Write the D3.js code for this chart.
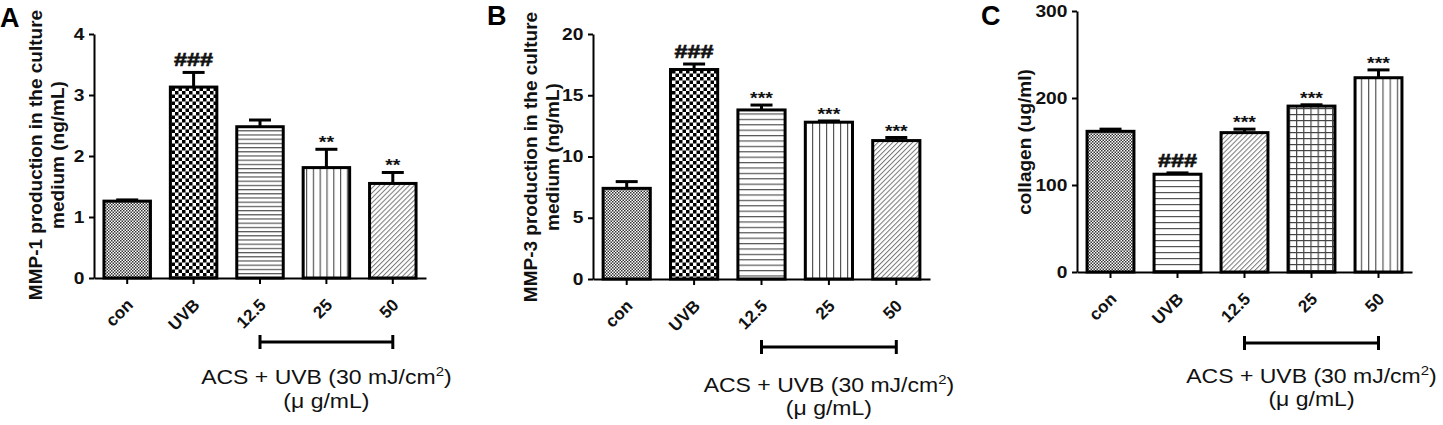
<!DOCTYPE html>
<html>
<head>
<meta charset="utf-8">
<script src="https://cdn.jsdelivr.net/npm/d3@7"></script>
<style>
  body { margin: 0; background: #fff; }
  svg { display: block; font-family: "Liberation Sans", Arial, sans-serif; }
</style>
</head>
<body>
<div id="chart-area"></div>
<script>
// Data
var groups = ["con", "UVB", "12.5", "25", "50"];

var mmp1Mean = [1.26, 3.13, 2.48, 1.81, 1.55];
var mmp1Err  = [0.02, 0.24, 0.11, 0.30, 0.18];
var mmp1Sig  = ["", "###", "", "**", "**"];
var mmp1Ticks = [0, 1, 2, 3, 4];

var mmp3Mean = [7.4, 17.1, 13.8, 12.8, 11.3];
var mmp3Err  = [0.55, 0.45, 0.40, 0.10, 0.25];
var mmp3Sig  = ["", "###", "***", "***", "***"];
var mmp3Ticks = [0, 5, 10, 15, 20];

var colMean = [161.7, 112.4, 160.2, 190.7, 223.3];
var colErr  = [2.5, 1.5, 4.0, 1.5, 9.0];
var colSig  = ["", "###", "***", "***", "***"];
var colTicks = [0, 100, 200, 300];

var W = 1443, H = 425;

var svg = d3.select("#chart-area")
    .append("svg")
        .attr("width", W)
        .attr("height", H);

var defs = svg.append("defs");

// Fill patterns
function makePatterns(prefix, hStep, vStep) {
    var p;
    // fine dots (con)
    p = defs.append("pattern").attr("id", prefix + "dots")
        .attr("patternUnits", "userSpaceOnUse").attr("width", 3).attr("height", 3);
    p.append("rect").attr("width", 3).attr("height", 3).attr("fill", "#fff");
    p.append("rect").attr("width", 1.5).attr("height", 1.5).attr("fill", "#333");
    p.append("rect").attr("x", 1.5).attr("y", 1.5).attr("width", 1.5).attr("height", 1.5).attr("fill", "#333");

    // big checker
    p = defs.append("pattern").attr("id", prefix + "checker")
        .attr("patternUnits", "userSpaceOnUse").attr("width", 7).attr("height", 7);
    p.append("rect").attr("width", 7).attr("height", 7).attr("fill", "#fff");
    p.append("rect").attr("width", 3.5).attr("height", 3.5).attr("fill", "#000");
    p.append("rect").attr("x", 3.5).attr("y", 3.5).attr("width", 3.5).attr("height", 3.5).attr("fill", "#000");

    // horizontal lines
    p = defs.append("pattern").attr("id", prefix + "hlines")
        .attr("patternUnits", "userSpaceOnUse").attr("width", 10).attr("height", hStep);
    p.append("rect").attr("width", 10).attr("height", hStep).attr("fill", "#fff");
    p.append("rect").attr("y", 0).attr("width", 10).attr("height", 1.2).attr("fill", "#555");

    // vertical lines
    p = defs.append("pattern").attr("id", prefix + "vlines")
        .attr("patternUnits", "userSpaceOnUse").attr("width", vStep).attr("height", 10);
    p.append("rect").attr("width", vStep).attr("height", 10).attr("fill", "#fff");
    p.append("rect").attr("x", 0).attr("width", 1.2).attr("height", 10).attr("fill", "#555");

    // diagonal hatch
    p = defs.append("pattern").attr("id", prefix + "diag")
        .attr("patternUnits", "userSpaceOnUse").attr("width", 3.5).attr("height", 10)
        .attr("patternTransform", "rotate(45)");
    p.append("rect").attr("width", 3.5).attr("height", 10).attr("fill", "#fff");
    p.append("rect").attr("width", 1).attr("height", 10).attr("fill", "#777");

    // grid
    p = defs.append("pattern").attr("id", prefix + "grid")
        .attr("patternUnits", "userSpaceOnUse").attr("width", vStep).attr("height", hStep);
    p.append("rect").attr("width", vStep).attr("height", hStep).attr("fill", "#fff");
    p.append("rect").attr("width", vStep).attr("height", 1.2).attr("fill", "#444");
    p.append("rect").attr("width", 1.2).attr("height", hStep).attr("fill", "#444");
}
makePatterns("a-", 4.2, 6.8);
makePatterns("b-", 5.4, 7);
makePatterns("c-", 6, 7.2);

var panels = [
    { letter: "A", lx: 0, ly: 27, x0: 94, x1: 426, yTop: 34, yBot: 278,
      mean: mmp1Mean, err: mmp1Err, sig: mmp1Sig, ticks: mmp1Ticks, max: 4,
      fills: ["dots", "checker", "hlines", "vlines", "diag"], pre: "a-",
      label: ["MMP-1 production in the culture", "medium (ng/mL)"], labelX: [42, 64], labelY: 155,
      brDy: 64, t1Dy: 106, t2Dy: 130 },
    { letter: "B", lx: 487, ly: 25, x0: 593, x1: 930, yTop: 34, yBot: 279,
      mean: mmp3Mean, err: mmp3Err, sig: mmp3Sig, ticks: mmp3Ticks, max: 20,
      fills: ["dots", "checker", "hlines", "vlines", "diag"], pre: "b-",
      label: ["MMP-3 production in the culture", "medium (ng/mL)"], labelX: [537, 559], labelY: 157,
      brDy: 68, t1Dy: 113, t2Dy: 136 },
    { letter: "C", lx: 981, ly: 25, x0: 1077, x1: 1412, yTop: 11, yBot: 272,
      mean: colMean, err: colErr, sig: colSig, ticks: colTicks, max: 300,
      fills: ["dots", "hlines", "diag", "grid", "vlines"], pre: "c-",
      label: ["collagen (ug/ml)"], labelX: [1031], labelY: 142,
      brDy: 71, t1Dy: 111, t2Dy: 134 }
];

panels.forEach(function(P) {
    var g = svg.append("g");

    var x = d3.scaleBand()
        .domain(groups)
        .range([P.x0, P.x1])
        .paddingInner(0.3)
        .paddingOuter(0.15);

    var y = d3.scaleLinear()
        .domain([0, P.max])
        .range([P.yBot, P.yTop]);

    var data = groups.map(function(k, i) {
        return { key: k, mean: P.mean[i], err: P.err[i], sig: P.sig[i], fill: P.fills[i] };
    });

    // Bars
    g.selectAll("rect.bar")
        .data(data)
        .enter().append("rect")
            .attr("class", "bar")
            .attr("x", function(d) { return x(d.key); })
            .attr("y", function(d) { return y(d.mean); })
            .attr("width", x.bandwidth())
            .attr("height", function(d) { return y(0) - y(d.mean); })
            .attr("fill", function(d) { return "url(#" + P.pre + d.fill + ")"; })
            .attr("stroke", "#000")
            .attr("stroke-width", 3);

    // Error bars (upper only)
    var eb = g.selectAll("g.err")
        .data(data)
        .enter().append("g")
            .attr("class", "err")
            .attr("stroke", "#000")
            .attr("stroke-width", 3);
    eb.append("line")
        .attr("x1", function(d) { return x(d.key) + x.bandwidth() / 2; })
        .attr("x2", function(d) { return x(d.key) + x.bandwidth() / 2; })
        .attr("y1", function(d) { return y(d.mean); })
        .attr("y2", function(d) { return y(d.mean + d.err); });
    eb.append("line")
        .attr("x1", function(d) { return x(d.key) + x.bandwidth() / 2 - 11; })
        .attr("x2", function(d) { return x(d.key) + x.bandwidth() / 2 + 11; })
        .attr("y1", function(d) { return y(d.mean + d.err); })
        .attr("y2", function(d) { return y(d.mean + d.err); });

    // Significance marks
    g.selectAll("text.sig")
        .data(data.filter(function(d) { return d.sig; }))
        .enter().append("text")
            .attr("class", "sig")
            .attr("transform", function(d) {
                var cx = x(d.key) + x.bandwidth() / 2;
                var yy = y(d.mean + d.err) - (d.sig[0] === "#" ? 6 : 1);
                var sx = d.sig[0] === "#" ? 1.3 : 1.15;
                return "translate(" + cx + "," + yy + ") scale(" + sx + ",1)";
            })
            .attr("text-anchor", "middle")
            .attr("font-weight", "bold")
            .attr("font-size", function(d) { return d.sig[0] === "#" ? "18px" : "17px"; })
            .attr("fill", "#111")
            .attr("stroke", "#111")
            .attr("stroke-width", function(d) { return d.sig[0] === "#" ? 0.6 : 0; })
            .text(function(d) { return d.sig; });

    // Y Axis
    var yAxis = g.append("g")
        .attr("transform", "translate(" + P.x0 + ",0)")
        .call(d3.axisLeft(y).tickValues(P.ticks).tickFormat(d3.format("d"))
            .tickSize(5).tickSizeOuter(0).tickPadding(3));
    yAxis.selectAll("path, line").attr("stroke", "#000").attr("stroke-width", 2);
    yAxis.selectAll("text")
        .attr("font-family", "Liberation Sans, Arial, sans-serif")
        .attr("font-size", "16px")
        .attr("font-weight", "bold")
        .attr("fill", "#111")
        .attr("transform", "scale(1.2,1)");

    // X Axis
    var xAxis = g.append("g")
        .attr("transform", "translate(0," + P.yBot + ")")
        .call(d3.axisBottom(x).tickSize(6).tickSizeOuter(0));
    xAxis.selectAll("path, line").attr("stroke", "#000").attr("stroke-width", 2);
    xAxis.selectAll("text")
        .attr("font-family", "Liberation Sans, Arial, sans-serif")
        .attr("font-size", "17px")
        .attr("font-weight", "bold")
        .attr("fill", "#111")
        .attr("text-anchor", "end")
        .attr("x", 0).attr("y", 0).attr("dy", 0)
        .attr("transform", "translate(7,28) rotate(-45)");

    // Y Label
    P.label.forEach(function(s, i) {
        g.append("text")
            .attr("transform", "translate(" + P.labelX[i] + "," + P.labelY + ") rotate(-90)")
            .attr("text-anchor", "middle")
            .attr("font-size", "19px")
            .attr("font-weight", "bold")
            .attr("fill", "#111")
            .text(s);
    });

    // Panel letter
    g.append("text")
        .attr("x", P.lx)
        .attr("y", P.ly)
        .attr("font-size", "27px")
        .attr("font-weight", "bold")
        .attr("fill", "#000")
        .text(P.letter);

    // Treatment bracket
    var bx1 = x("12.5") + x.bandwidth() / 2,
        bx2 = x("50") + x.bandwidth() / 2,
        by = P.yBot + P.brDy,
        bc = (bx1 + bx2) / 2;
    var br = g.append("g").attr("stroke", "#000").attr("stroke-width", 3);
    br.append("line").attr("x1", bx1).attr("x2", bx2).attr("y1", by).attr("y2", by);
    br.append("line").attr("x1", bx1).attr("x2", bx1).attr("y1", by - 7).attr("y2", by + 7);
    br.append("line").attr("x1", bx2).attr("x2", bx2).attr("y1", by - 7).attr("y2", by + 7);

    var t1 = g.append("text")
        .attr("transform", "translate(" + bc + "," + (P.yBot + P.t1Dy) + ") scale(1.15,1)")
        .attr("text-anchor", "middle")
        .attr("font-size", "20px")
        .attr("fill", "#111");
    t1.append("tspan").text("ACS + UVB (30 mJ/cm");
    t1.append("tspan").attr("font-size", "13px").attr("dy", -8).text("2");
    t1.append("tspan").attr("dy", 8).text(")");

    g.append("text")
        .attr("transform", "translate(" + bc + "," + (P.yBot + P.t2Dy) + ") scale(1.15,1)")
        .attr("text-anchor", "middle")
        .attr("font-size", "20px")
        .attr("fill", "#111")
        .text("(\u03bc g/mL)");
});
</script>
</body>
</html>
